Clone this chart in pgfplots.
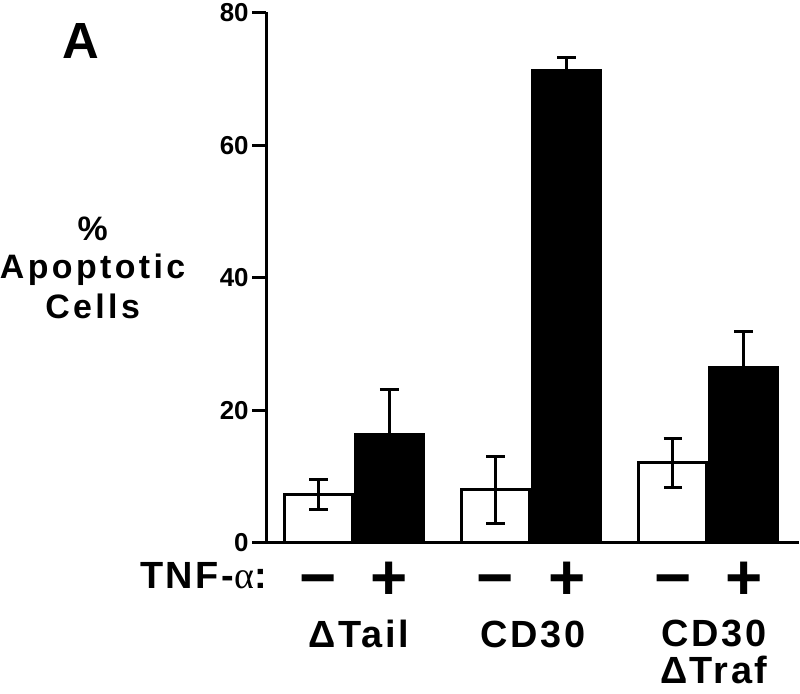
\documentclass[border=0pt]{standalone}
\usepackage{pgfplots}
\pgfplotsset{compat=1.18}
\usepackage{fontspec}
\setmainfont{Liberation Sans}
\newfontfamily\trk{Liberation Sans}[LetterSpace=7]
\newfontfamily\trky{Liberation Sans}[LetterSpace=10]
\newfontfamily\serifa{Liberation Serif}
\tikzset{
  pm/.style={anchor=base, inner sep=0pt, font=\fontsize{64}{64}\selectfont\bfseries},
  grp/.style={anchor=base, inner sep=0pt, font=\fontsize{38}{38}\selectfont\trk\bfseries},
  ylab/.style={anchor=base, inner sep=0pt, font=\fontsize{34}{34}\selectfont\trky\bfseries},
}
\begin{document}
\begin{tikzpicture}
\begin{axis}[
  scale only axis, width=534pt, height=532pt,
  xmin=266, xmax=800, ymin=0, ymax=80,
  axis x line=bottom, axis y line=left,
  axis line style={line width=3pt, -},
  ytick={0,20,40,60,80},
  xtick=\empty,
  /pgf/number format/assume math mode=true,
  y tick label style={font=\fontsize{26}{26}\selectfont\bfseries},
  y tick style={line width=3pt, black},
  major tick length=14pt,
  tick align=outside,
  clip=false,
]
\addplot[ybar, bar shift=0pt, bar width=68, fill=white, draw=black, line width=3pt,
  error bars/.cd, y dir=both, y explicit,
  error bar style={line width=3pt, black},
  error mark options={line width=3pt, mark size=9.3pt, rotate=90, black}]
  coordinates {(318.5,7.3) +- (0,2.2) (496,8.0) +- (0,5.1) (674,12.1) +- (0,3.7)};
\addplot[ybar, bar shift=0pt, bar width=68, fill=black, draw=black, line width=3pt,
  error bars/.cd, y dir=plus, y explicit,
  error bar style={line width=3pt, black},
  error mark options={line width=3pt, mark size=9.3pt, rotate=90, black}]
  coordinates {(389.5,16.4) +- (0,6.8) (567.5,71.2) +- (0,2.0) (745,26.4) +- (0,5.5)};
% panel letter and y label
\node[anchor=base, inner sep=0pt, font=\fontsize{51}{51}\selectfont\bfseries] at (axis cs:80,73.08) {A};
\node[ylab] at (axis cs:92,45.56) {\%};
\node[ylab] at (axis cs:92,39.85) {Apoptotic};
\node[ylab] at (axis cs:92,33.83) {Cells};
% TNF row
\node[anchor=base east, inner sep=0pt, font=\fontsize{38}{38}\selectfont\trk\bfseries] at (axis cs:267,-6.92) {TNF-{\serifa\mdseries α}:};
\node[pm] at (axis cs:318.5,-8.5) {−};
\node[pm] at (axis cs:496,-8.5) {−};
\node[pm] at (axis cs:674,-8.5) {−};
\node[pm] at (axis cs:389.5,-8.5) {+};
\node[pm] at (axis cs:567.5,-8.5) {+};
\node[pm] at (axis cs:745,-8.5) {+};
% group labels
\node[grp] at (axis cs:359,-15.79) {ΔTail};
\node[grp] at (axis cs:534,-15.79) {CD30};
\node[grp, align=center, font=\fontsize{38}{37}\selectfont\trk\bfseries, anchor=north] at (axis cs:715,-11.6) {CD30\\ΔTraf};
\path (axis cs:0,-22.7) rectangle (axis cs:800,81.65);
\end{axis}
\end{tikzpicture}
\end{document}
